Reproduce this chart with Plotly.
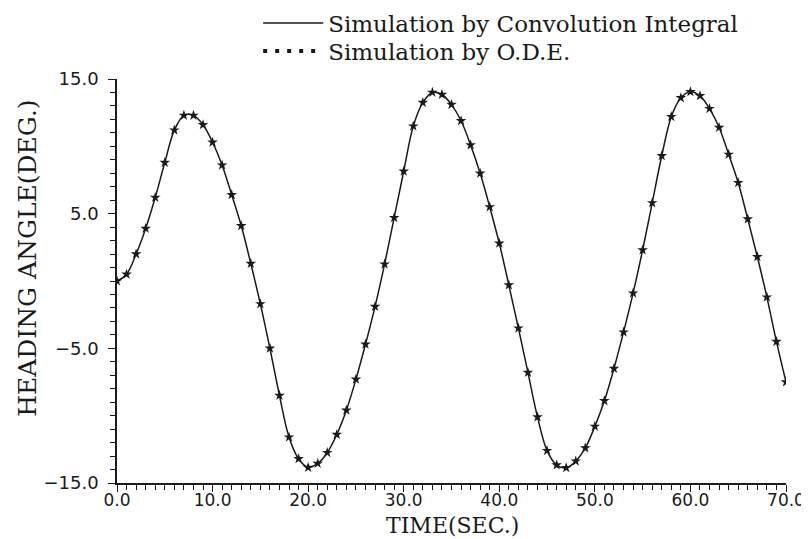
import plotly.graph_objects as go

# ---- data ----
time_s = list(range(0, 71))
heading_conv = [0.0, 0.5, 2.0, 3.9, 6.2, 8.8, 11.2, 12.3, 12.3, 11.6,
                10.3, 8.6, 6.4, 4.1, 1.3, -1.7, -5.0, -8.5, -11.6, -13.2,
                -13.85, -13.55, -12.75, -11.4, -9.6, -7.3, -4.7, -1.9, 1.25, 4.7,
                8.15, 11.5, 13.25, 14.0, 13.85, 13.1, 11.9, 10.1, 8.0, 5.5,
                2.8, -0.3, -3.5, -6.8, -10.1, -12.6, -13.67, -13.87, -13.38, -12.4,
                -10.8, -8.9, -6.5, -3.8, -0.9, 2.3, 5.8, 9.3, 12.2, 13.6,
                14.05, 13.75, 12.8, 11.4, 9.4, 7.3, 4.6, 1.8, -1.2, -4.5,
                -7.5]
heading_ode = list(heading_conv)

x_ticks = [0, 10, 20, 30, 40, 50, 60, 70]
x_tick_labels = ["0.0", "10.0", "20.0", "30.0", "40.0", "50.0", "60.0", "70.0"]
y_ticks = [-15, -5, 5, 15]
y_tick_labels = ["\u221215.0", "\u22125.0", "5.0", "15.0"]

ink = "#1a1a1a"
serif = "DejaVu Serif"

fig = go.Figure()
fig.add_trace(go.Scatter(
    x=time_s, y=heading_conv, mode="lines", line_shape="spline",
    line=dict(color=ink, width=1.5),
    name="Simulation by Convolution Integral", legend="legend"))
fig.add_trace(go.Scatter(
    x=time_s, y=heading_ode, mode="markers",
    marker=dict(symbol="star", size=8, color=ink),
    name="Simulation by O.D.E.", showlegend=False))
fig.add_trace(go.Scatter(
    x=[None], y=[None], mode="lines",
    line=dict(color=ink, width=4, dash="4px,8px"),
    name="Simulation by O.D.E.", legend="legend2"))

legend_common = dict(xanchor="left", yanchor="middle", xref="paper", yref="container",
                     font=dict(family=serif, size=23, color=ink),
                     itemwidth=60, bgcolor="rgba(0,0,0,0)")

fig.update_layout(
    width=801, height=531,
    margin=dict(l=109, r=23, t=71, b=56, autoexpand=False),
    paper_bgcolor="white", plot_bgcolor="white",
    showlegend=True,
    legend=dict(x=0.211, y=0.9718, **legend_common),
    legend2=dict(x=0.211, y=0.9190, **legend_common),
    font=dict(family="DejaVu Sans", color=ink),
    annotations=[
        dict(text="HEADING ANGLE(DEG.)", textangle=-90,
             xref="paper", yref="paper", x=-0.133, y=0.555,
             xanchor="center", yanchor="middle", showarrow=False,
             font=dict(family=serif, size=25, color=ink)),
        dict(text="TIME(SEC.)",
             xref="paper", yref="paper", x=0.502, y=-0.104,
             xanchor="center", yanchor="middle", showarrow=False,
             font=dict(family=serif, size=22, color=ink)),
    ],
)
fig.update_xaxes(
    range=[0, 70], tickvals=x_ticks, ticktext=x_tick_labels,
    showline=True, linecolor=ink, linewidth=1.5, mirror=False,
    ticks="outside", ticklen=7, tickcolor=ink, tickwidth=1,
    minor=dict(dtick=1, ticks="outside", ticklen=5, tickcolor=ink, tickwidth=1),
    showgrid=False, zeroline=False, automargin=False,
    tickfont=dict(family="DejaVu Sans", size=17, color=ink),
    ticklabelstandoff=-6,
)
fig.update_yaxes(
    range=[-15, 15], tickvals=y_ticks, ticktext=y_tick_labels,
    showline=True, linecolor=ink, linewidth=1.5, mirror=False,
    ticks="outside", ticklen=7, tickcolor=ink, tickwidth=1,
    minor=dict(dtick=1, ticks="outside", ticklen=5, tickcolor=ink, tickwidth=1),
    showgrid=False, zeroline=False, automargin=False,
    tickfont=dict(family="DejaVu Sans", size=18, color=ink),
    ticklabelstandoff=6,
)

fig.write_html("out.html")
